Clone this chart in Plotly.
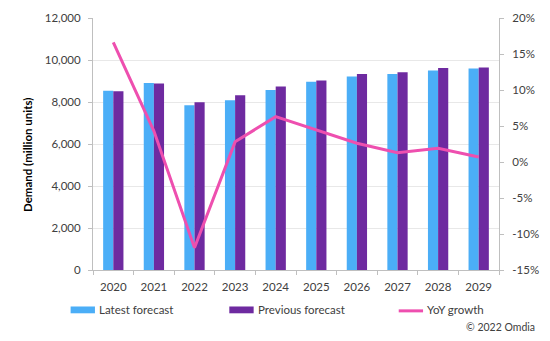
import plotly.graph_objects as go

years = ["2020", "2021", "2022", "2023", "2024", "2025", "2026", "2027", "2028", "2029"]
latest_forecast = [8540, 8910, 7845, 8080, 8570, 8960, 9220, 9330, 9500, 9590]
previous_forecast = [8510, 8880, 7985, 8325, 8740, 9020, 9330, 9420, 9620, 9640]
yoy_growth = [16.6, 4.3, -11.9, 2.8, 6.3, 4.5, 2.6, 1.3, 1.9, 0.7]
growth_ticks = [-15, -10, -5, 0, 5, 10, 15, 20]
growth_tick_labels = ["-15%", "-10%", "-5%", "0%", "5%", "10%", "15%", "20%"]

BLUE = "#4BAEF7"
PURPLE = "#6E2AA0"
PINK = "#EE4FAF"
FONT = "Lato"
TXT = "#404040"

W, H = 550, 341
L, R, T, B = 93, 40, 11, 71
PW, PH = W - L - R, H - T - B


def px(x):
    return (x - L) / PW


def py(y):
    return (H - B - y) / PH


fig = go.Figure()
fig.add_trace(go.Bar(x=years, y=latest_forecast, name="Latest forecast",
                     marker=dict(color=BLUE, line=dict(width=0))))
fig.add_trace(go.Bar(x=years, y=previous_forecast, name="Previous forecast",
                     marker=dict(color=PURPLE, line=dict(width=0))))
fig.add_trace(go.Scatter(x=years, y=yoy_growth, name="YoY growth", yaxis="y2",
                         mode="lines", line=dict(color=PINK, width=3)))

# hand-built legend row and source note
legend_items = [
    (70, "Latest forecast", BLUE, "bar"),
    (233, "Previous forecast", PURPLE, "bar"),
    (407, "YoY growth", PINK, "line"),
]
shapes = []
annotations = []
ly = 311
for x0, label, color, kind in legend_items:
    if kind == "bar":
        shapes.append(dict(type="rect", xref="paper", yref="paper",
                           x0=px(x0), x1=px(x0 + 25), y0=py(ly + 3.5), y1=py(ly - 3.5),
                           fillcolor=color, line=dict(width=0)))
    else:
        shapes.append(dict(type="line", xref="paper", yref="paper",
                           x0=px(x0), x1=px(x0 + 25), y0=py(ly + 1), y1=py(ly + 1),
                           line=dict(color=color, width=3)))
    annotations.append(dict(text=label, xref="paper", yref="paper",
                            x=px(x0 + 27), y=py(ly), xanchor="left", yanchor="middle",
                            showarrow=False, font=dict(family=FONT, size=11.5, color=TXT)))

annotations.append(dict(text="© 2022 Omdia", xref="paper", yref="paper",
                        x=px(549), y=py(329), xanchor="right", yanchor="middle",
                        showarrow=False, font=dict(family=FONT, size=10.5, color=TXT)))
annotations.append(dict(text="<b>Demand (million units)</b>", xref="paper", yref="paper",
                        x=px(25), y=py(152), xanchor="center", yanchor="middle",
                        textangle=-90, showarrow=False,
                        font=dict(family=FONT, size=11.5, color="#000000")))

fig.update_layout(
    width=W, height=H,
    margin=dict(l=L, r=R, t=T, b=B),
    paper_bgcolor="white", plot_bgcolor="white",
    barmode="group", bargap=0.5, bargroupgap=0,
    showlegend=False,
    font=dict(family=FONT, size=11.5, color=TXT),
    xaxis=dict(type="category", showline=True, linecolor="#BFBFBF", linewidth=1,
               ticks="outside", tickson="boundaries", ticklen=4, tickcolor="#BFBFBF",
               ticklabelstandoff=6,
               tickfont=dict(size=11.5, color=TXT), showgrid=False, fixedrange=True),
    yaxis=dict(range=[0, 12000], dtick=2000, tickformat=",d", showline=True,
               linecolor="#BFBFBF", ticks="outside", ticklen=4, tickcolor="#BFBFBF",
               ticklabelstandoff=5,
               gridcolor="#E8E8E8", gridwidth=1, zeroline=False,
               tickfont=dict(size=11.5, color=TXT)),
    yaxis2=dict(range=[-15, 20], tickvals=growth_ticks, ticktext=growth_tick_labels,
                overlaying="y", side="right",
                showline=True, linecolor="#BFBFBF", ticks="outside", ticklen=4,
                tickcolor="#BFBFBF", ticklabelstandoff=6, showgrid=False, zeroline=False,
                tickfont=dict(size=11.5, color=TXT)),
    shapes=shapes,
    annotations=annotations,
)

fig.write_html("out.html")
